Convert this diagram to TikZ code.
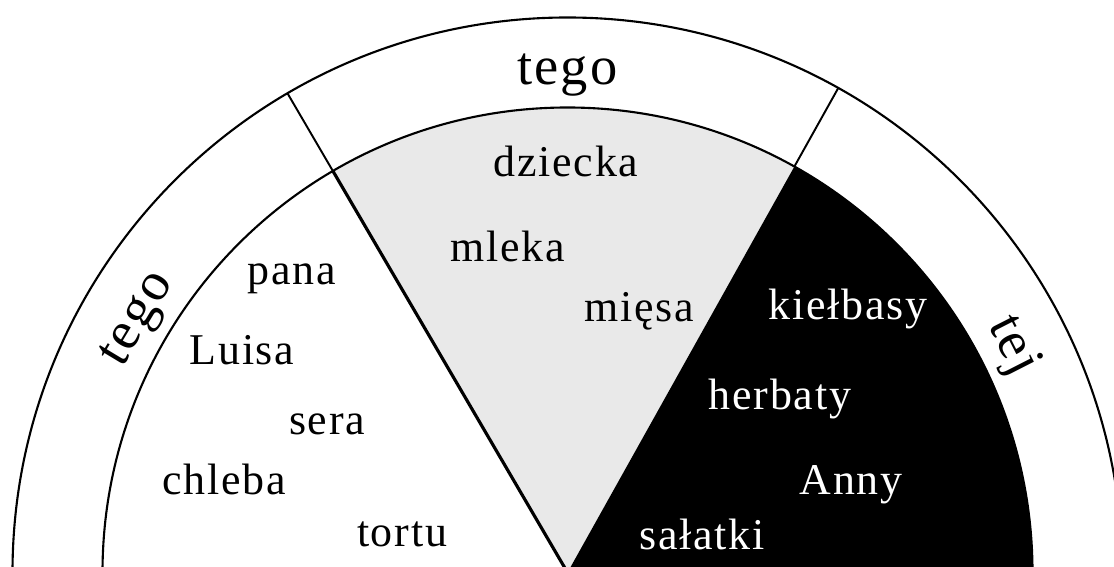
\documentclass[tikz,border=0pt]{standalone}
\usepackage{fontspec}
\setmainfont{Liberation Serif}
\newfontfamily\wordfont[LetterSpace=4]{Liberation Serif}
\usetikzlibrary{calc}
\definecolor{cShade}{RGB}{233,233,233}
\tikzset{
	ring/.style    ={line width=1.2pt, draw=black},
	divider/.style ={line width=1.1pt, draw=black},
	% words inside the half disc
	word/.style    ={font=\wordfont\fontsize{25}{29}\selectfont, inner sep=0pt, anchor=base},
	darkword/.style={word, text=white},
	% words in the outer band
	bandword/.style={font=\wordfont\fontsize{31}{36}\selectfont, inner sep=0pt, anchor=base},
}

\begin{document}
\begin{tikzpicture}[x=0.02cm, y=0.02cm]
	\useasboundingbox (0,0) rectangle (1114,567);
	\clip (0,0) rectangle (1114,567);
	\fill[white] (0,0) rectangle (1114,567);
	\coordinate (c) at (567.5,-5.5);
	% sectors
	\fill[cShade] (c) -- ($(c)+(60.8:465)$) arc[start angle=60.8, end angle=120.3, radius=465] -- cycle;
	\fill[black] (c) -- ($(c)+(0:465)$) arc[start angle=0, end angle=60.8, radius=465] -- cycle;
	% arcs and dividers
	\draw[ring] ($(c)+(0:465)$) arc[start angle=0, end angle=180, radius=465];
	\draw[ring] ($(c)+(0:555)$) arc[start angle=0, end angle=180, radius=555];
	\draw[divider, line width=1.8pt] (c) -- ($(c)+(120.3:465)$);
	\draw[divider] ($(c)+(120.3:465)$) -- ($(c)+(120.3:555)$);
	\draw[divider] ($(c)+(60.8:465)$) -- ($(c)+(60.8:555)$);
	% band labels
	\node[bandword] (bandtop) at ($(c)+(90:487.5)$) {tego};
	\node[bandword, rotate=59] (bandleft) at ($(c)+(149.5:487)$) {tego};
	\node[bandword, rotate=-63] (bandright) at ($(c)+(27:487)$) {tej};
	% left sector
	\node[word] (pana) at (292,282) {pana};
	\node[word] (luisa) at (242,202) {Luisa};
	\node[word] (sera) at (327,132) {sera};
	\node[word] (chleba) at (224,72) {chleba};
	\node[word] (tortu) at (402,20) {tortu};
	% middle sector
	\node[word] (dziecka) at (566,390) {dziecka};
	\node[word] (mleka) at (508,305) {mleka};
	\node[word] (miesa) at (639,245) {mięsa};
	% right sector
	\node[darkword] (kielbasy) at (848,247) {kiełbasy};
	\node[darkword] (herbaty) at (780,157) {herbaty};
	\node[darkword] (anny) at (851,72) {Anny};
	\node[darkword] (salatki) at (702,17) {sałatki};
\end{tikzpicture}
\end{document}
